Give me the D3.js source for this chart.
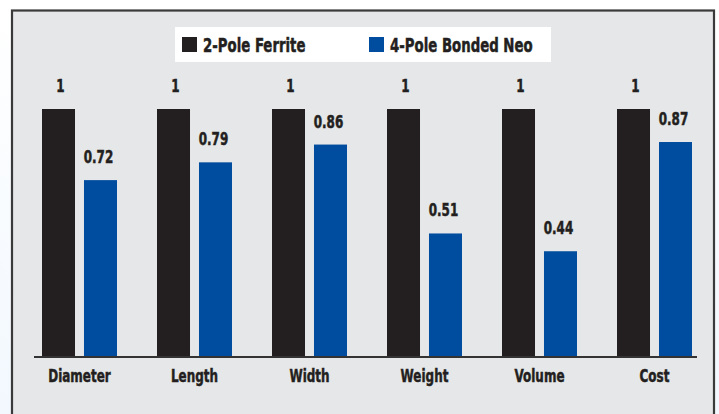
<!DOCTYPE html>
<html>
<head>
<meta charset="utf-8">
<script src="https://cdn.jsdelivr.net/npm/d3@7"></script>
<style>
  html, body { margin: 0; padding: 0; background: #ffffff; }
  svg { display: block; }
  text { font-family: "DejaVu Sans Condensed", "Liberation Sans Narrow", sans-serif; font-weight: bold;
         fill: #231f20; stroke: #231f20; stroke-width: 0.5; }
</style>
</head>
<body>
<script>
// Relative size of a 4-pole bonded Neo motor against a 2-pole ferrite motor (ferrite = 1)
const categories = ["Diameter", "Length", "Width", "Weight", "Volume", "Cost"];
const seriesNames = ["2-Pole Ferrite", "4-Pole Bonded Neo"];
const ferriteValues = [1, 1, 1, 1, 1, 1];
const neoValues = [0.72, 0.79, 0.86, 0.51, 0.44, 0.87];
const seriesColors = ["#231f20", "#004c9e"];

const W = 719, H = 414;
const SX = 0.74; // horizontal squeeze for a heavy condensed face
const svg = d3.select("body").append("svg").attr("width", W).attr("height", H);

// page background with a faint blue tint toward the bottom
const defs = svg.append("defs");
const grad = defs.append("linearGradient").attr("id", "bg").attr("x1", 0).attr("y1", 0).attr("x2", 0).attr("y2", 1);
grad.append("stop").attr("offset", "0%").attr("stop-color", "#ffffff");
grad.append("stop").attr("offset", "100%").attr("stop-color", "#f2f8fe");
svg.append("rect").attr("width", W).attr("height", H).attr("fill", "url(#bg)");

// framed panel
svg.append("rect")
  .attr("x", 12).attr("y", 10.5).attr("width", 702).attr("height", 420)
  .attr("fill", "#e6e7e8").attr("stroke", "#3a3a3a").attr("stroke-width", 2.2);

// scales
const x0 = d3.scaleBand().domain(categories).range([42, 732]).paddingInner(0).paddingOuter(0);
const x1 = d3.scaleBand().domain(seriesNames).range([0, 75]).paddingInner(0.214);
const y = d3.scaleLinear().domain([0, 1]).range([363, 109]);
const baseY = 356;

const place = (px, py) => `translate(${px},${py}) scale(${SX},1)`;

const rows = categories.map((c, i) => ({ cat: c, vals: [ferriteValues[i], neoValues[i]] }));

const groups = svg.append("g").selectAll("g").data(rows).join("g")
  .attr("transform", d => `translate(${x0(d.cat)},0)`);

groups.selectAll("rect").data(d => d.vals.map((v, k) => ({ v, k })))
  .join("rect")
  .attr("x", d => x1(seriesNames[d.k]))
  .attr("y", d => y(d.v))
  .attr("width", x1.bandwidth())
  .attr("height", d => baseY - y(d.v))
  .attr("fill", d => seriesColors[d.k]);

// value labels
groups.selectAll("text.val").data(d => d.vals.map((v, k) => ({ v, k })))
  .join("text").attr("class", "val")
  .attr("transform", d => place(x1(seriesNames[d.k]) + x1.bandwidth() / 2 + (d.k === 0 ? 2 : -2), y(d.v) - 17))
  .attr("text-anchor", "middle")
  .attr("font-size", 18)
  .text(d => d3.format("~g")(d.v));

// baseline
svg.append("line").attr("x1", 34).attr("x2", 697).attr("y1", baseY + 1).attr("y2", baseY + 1)
  .attr("stroke", "#333333").attr("stroke-width", 2.2);

// category labels
svg.append("g").selectAll("text").data(categories).join("text")
  .attr("transform", d => place(x0(d) + 37.5, 382))
  .attr("text-anchor", "middle")
  .attr("font-size", 18)
  .text(d => d);

// legend
const leg = svg.append("g");
leg.append("rect").attr("x", 175).attr("y", 27).attr("width", 376).attr("height", 35).attr("fill", "#ffffff");
const legX = [182, 369];
seriesNames.forEach((s, k) => {
  leg.append("rect").attr("x", legX[k]).attr("y", 37).attr("width", 15).attr("height", 15).attr("fill", seriesColors[k]);
  leg.append("text").attr("transform", place(legX[k] + 21, 51.5)).attr("font-size", 20).text(s);
});
</script>
</body>
</html>
